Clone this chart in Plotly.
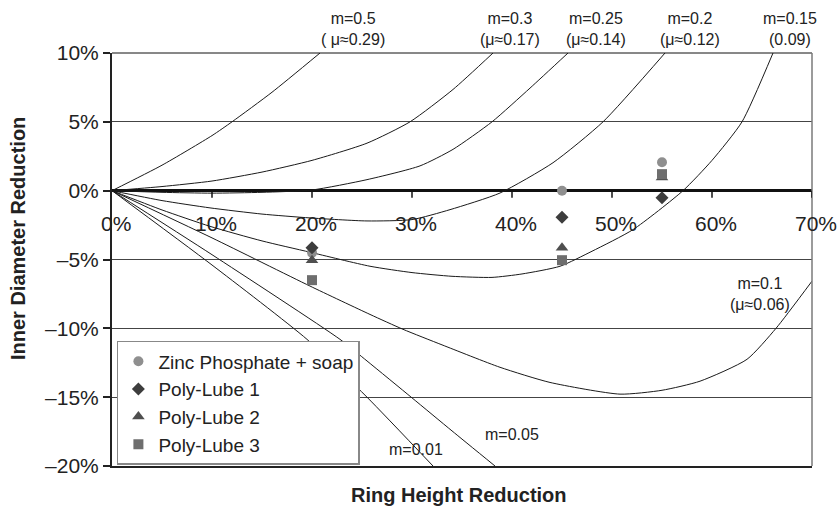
import plotly.graph_objects as go

# ---------------- data (percent units) ----------------
# calibration curves: ring height reduction (x) vs inner diameter reduction (y)
m050_x = [0, 5, 10, 12, 16, 20.8]
m050_y = [0, 1.85, 4.0, 5.0, 7.15, 10.0]

m030_x = [0, 5, 10, 15, 20, 25.5, 29.8, 34.1, 38.1]
m030_y = [0, 0.3, 0.7, 1.35, 2.2, 3.45, 5.0, 7.35, 10.0]

m025_x = [0, 5, 10, 15, 20, 25.5, 30.8, 34.1, 38, 41.8, 45.6]
m025_y = [0, -0.12, -0.18, -0.12, 0.05, 0.8, 1.8, 3.0, 5.0, 7.45, 10.0]

m020_x = [0, 5, 9.8, 15, 19.8, 25.5, 30, 33.8, 38.8, 44.1, 49.1, 55.3]
m020_y = [0, -0.72, -1.25, -1.7, -1.98, -2.2, -2.1, -1.38, -0.17, 2.03, 5.0, 10.0]

m015_x = [0, 5, 9.8, 15, 19.8, 25.8, 30, 34, 38, 41, 44.8, 48, 52.1, 57.1, 60, 63, 66.1]
m015_y = [0, -1.4, -2.59, -3.65, -4.47, -5.49, -5.95, -6.22, -6.3, -6.05, -5.49, -4.4, -2.83, 0, 2.2, 5.0, 10.0]

m010_x = [0, 10, 19.8, 25.8, 29.1, 33, 38.8, 43.8, 50.8, 55, 58.8, 63.5, 66.4, 70]
m010_y = [0, -3.43, -6.93, -8.99, -10.07, -11.2, -12.83, -13.93, -14.78, -14.5, -13.84, -12.25, -10.0, -6.57]

m005_x = [0, 10, 22.8, 25.5, 30, 34, 38.3]
m005_y = [0, -4.65, -10.8, -12.37, -15.05, -17.45, -20.0]

m001_x = [0, 10, 19.5, 25.5, 32.1]
m001_y = [0, -5.4, -10.8, -15.0, -20.0]

curves = [(m050_x, m050_y), (m030_x, m030_y), (m025_x, m025_y), (m020_x, m020_y),
          (m015_x, m015_y), (m010_x, m010_y), (m005_x, m005_y), (m001_x, m001_y)]

# measured lubricant results
test_x = [20, 45, 55]
zinc_y = [-4.5, 0.0, 2.07]
pl1_y = [-4.15, -1.93, -0.51]
pl2_y = [-5.05, -4.15, 0.95]
pl3_y = [-6.5, -5.05, 1.2]

series_names = ["Zinc Phosphate + soap", "Poly-Lube 1", "Poly-Lube 2", "Poly-Lube 3"]
series_vals = [zinc_y, pl1_y, pl2_y, pl3_y]

x_tick_vals = [0, 10, 20, 30, 40, 50, 60, 70]
x_tick_text = ["0%", "10%", "20%", "30%", "40%", "50%", "60%", "70%"]
y_tick_vals = [-20, -15, -10, -5, 0, 5, 10]
y_tick_text = ["\u201320%", "\u201315%", "\u201310%", "\u20135%", "0%", "5%", "10%"]

# curve labels above the plot: (x, text)
top_labels = [
    (24.1, "m=0.5<br>( \u03bc\u22480.29)"),
    (39.8, "m=0.3<br>(\u03bc\u22480.17)"),
    (48.4, "m=0.25<br>(\u03bc\u22480.14)"),
    (57.8, "m=0.2<br>(\u03bc\u22480.12)"),
    (67.8, "m=0.15<br>(0.09)"),
]
# curve labels inside the plot: (x, y, text)
inner_labels = [
    (64.8, -7.5, "m=0.1<br>(\u03bc\u22480.06)"),
    (40.0, -17.68, "m=0.05"),
    (30.4, -18.77, "m=0.01"),
]

FONT = "Liberation Sans, Arial, Helvetica, sans-serif"
TXT = "#222222"

fig = go.Figure()

for cx, cy in curves:
    fig.add_trace(go.Scatter(x=cx, y=cy, mode="lines", showlegend=False, hoverinfo="skip",
                             line=dict(color="#1a1a1a", width=1, shape="spline", smoothing=0.6)))

styles = [
    dict(symbol="circle", color="#8f8f8f", size=10),
    dict(symbol="diamond", color="#3d3d3d", size=10),
    dict(symbol="triangle-up", color="#4f4f4f", size=11),
    dict(symbol="square", color="#6e6e6e", size=10),
]
for name, vals, st in zip(series_names, series_vals, styles):
    fig.add_trace(go.Scatter(x=test_x, y=vals, mode="markers", name=name,
                             marker=dict(symbol=st["symbol"], color=st["color"], size=st["size"],
                                         line=dict(width=0))))

annotations = []
for xv, txt in zip(x_tick_vals, x_tick_text):
    annotations.append(dict(x=xv, y=0, xref="x", yref="y", text=txt, showarrow=False,
                            yanchor="middle", xanchor="center", yshift=-33, xshift=4,
                            font=dict(size=21, color=TXT, family=FONT)))
for lx, txt in top_labels:
    annotations.append(dict(x=lx, y=1.059, xref="x", yref="paper", text=txt, showarrow=False,
                            xanchor="center", yanchor="middle",
                            font=dict(size=16, color=TXT, family=FONT)))
for lx, ly, txt in inner_labels:
    annotations.append(dict(x=lx, y=ly, xref="x", yref="y", text=txt, showarrow=False,
                            xanchor="center", yanchor="middle",
                            font=dict(size=16, color=TXT, family=FONT)))
annotations.append(dict(x=0.496, y=-0.07, xref="paper", yref="paper", text="<b>Ring Height Reduction</b>",
                        showarrow=False, xanchor="center", yanchor="middle",
                        font=dict(size=20, color=TXT, family=FONT)))
annotations.append(dict(x=-0.134, y=0.55, xref="paper", yref="paper", text="<b>Inner Diameter Reduction</b>",
                        showarrow=False, xanchor="center", yanchor="middle", textangle=-90,
                        font=dict(size=20, color=TXT, family=FONT)))

shapes = [
    dict(type="line", xref="paper", yref="paper", x0=0, x1=1, y0=1, y1=1,
         line=dict(color="#111111", width=1)),
    dict(type="line", xref="paper", yref="paper", x0=1, x1=1, y0=0, y1=1,
         line=dict(color="#7a7a7a", width=1.5)),
]
for xv in x_tick_vals[1:]:
    shapes.append(dict(type="line", xref="x", yref="y", x0=xv, x1=xv, ysizemode="pixel",
                       yanchor=0, y0=0, y1=-7, line=dict(color="#111111", width=1.5)))

fig.update_layout(
    width=839, height=507,
    margin=dict(l=112, r=27, t=53, b=41),
    paper_bgcolor="white", plot_bgcolor="white",
    font=dict(family=FONT, color=TXT),
    xaxis=dict(range=[0, 70], showgrid=False, showticklabels=False, ticks="",
               showline=True, linecolor="#222222", linewidth=2, zeroline=False),
    yaxis=dict(range=[-20, 10], tickvals=y_tick_vals, ticktext=y_tick_text,
               ticks="outside", ticklen=7, tickwidth=1.5, tickcolor="#222222",
               tickfont=dict(size=21, color=TXT, family=FONT),
               showline=True, linecolor="#222222", linewidth=2,
               showgrid=True, gridcolor="#444444", gridwidth=1,
               zeroline=True, zerolinecolor="#111111", zerolinewidth=2.5),
    legend=dict(x=0.007, y=0.303, xanchor="left", yanchor="top",
                bgcolor="white", bordercolor="#888888", borderwidth=1.5,
                font=dict(size=19, color=TXT, family=FONT), tracegroupgap=0),
    annotations=annotations,
    shapes=shapes,
    showlegend=True,
)

fig.write_html("out.html")
